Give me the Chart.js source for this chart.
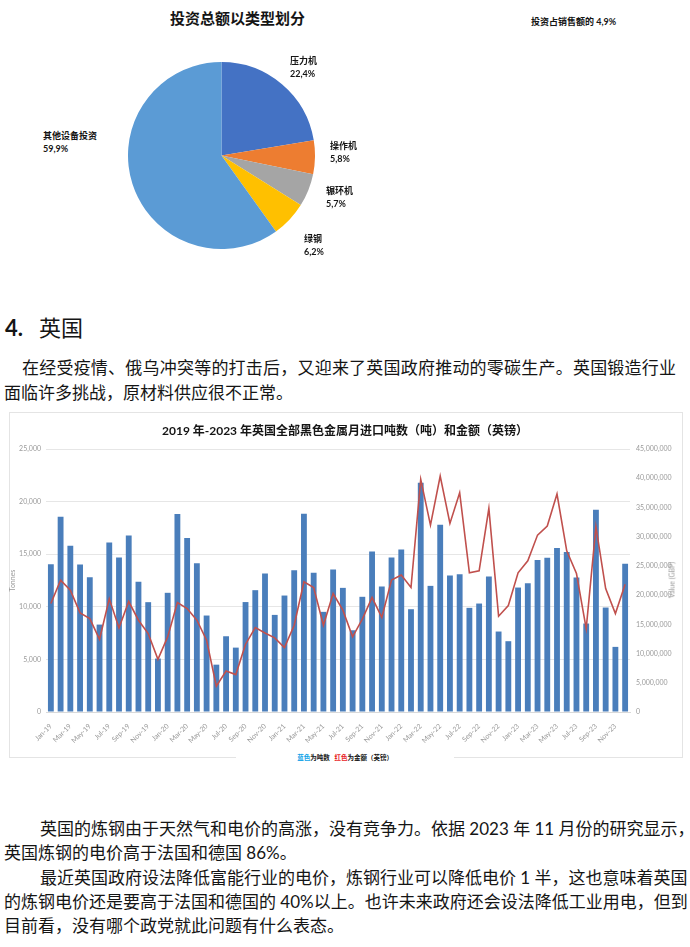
<!DOCTYPE html>
<html lang="zh">
<head>
<meta charset="UTF-8">
<title>英国黑色金属进口</title>
<script src="https://cdn.jsdelivr.net/npm/chart.js"></script>
<style>
    body { margin: 0; width: 690px; height: 947px; position: relative; overflow: hidden; background: #fff;
           font-family: "Lato", "Noto Sans CJK SC", sans-serif; color: #151515; }
    .abs { position: absolute; white-space: nowrap; }
    .pie-lbl { font-size: 9px; font-weight: 700; line-height: 13px; }
    .txt { position: absolute; white-space: nowrap; font-size: 17px; line-height: 20px; }
    .just { text-align: justify; text-align-last: justify; }
</style>
</head>
<body>
    <!-- pie block -->
    <div class="abs" style="left:170px; top:7px; font-size:15px; font-weight:700; line-height:22px;">投资总额以类型划分</div>
    <div class="abs pie-lbl" style="left:531px; top:15px;">投资占销售额的 4,9%</div>
    <canvas id="pieChart" class="abs" style="left:128px; top:62px;" width="187" height="187"></canvas>
    <div id="pieLabels"></div>

    <!-- heading + paragraph -->
    <div class="abs" style="left:5px; top:314px; font-size:22px; line-height:28px;"><b>4.</b></div>
    <div class="abs" style="left:39px; top:314px; font-size:22px; line-height:28px;">英国</div>
    <div class="txt just" style="left:22px; top:358px; width:654px;">在经受疫情、俄乌冲突等的打击后，又迎来了英国政府推动的零碳生产。英国锻造行业</div>
    <div class="txt" style="left:4px; top:383px;">面临许多挑战，原材料供应很不正常。</div>

    <!-- combo chart -->
    <div class="abs" style="left:9px; top:412px; width:672px; height:344px; border:1px solid #e4e4e4;"></div>
    <canvas id="importChart" class="abs" style="left:9px; top:412px;" width="674" height="345"></canvas>
    <div class="abs" style="left:0; width:690px; top:422px; text-align:center; font-size:12px; font-weight:700; line-height:18px;">2019 年-2023 年英国全部黑色金属月进口吨数（吨）和金额（英镑）</div>
    <div class="abs" style="left:672px; top:580px; font-size:7px; color:#9a9a9a; line-height:9px; transform:translate(-50%,-50%) rotate(-90deg);">Value (GBP)</div>
    <div class="abs" style="left:236px; width:218px; top:752px; height:12px; background:#fff; text-align:center; font-size:6.5px; font-weight:700; line-height:12px;">
        <span style="color:#12a3e8">蓝色</span>为吨数&nbsp;&nbsp; <span style="color:#e8231f">红色</span>为金额（英镑）
    </div>

    <!-- lower paragraphs -->
    <div class="txt just" style="left:40px; top:819px; width:645px;">英国的炼钢由于天然气和电价的高涨，没有竞争力。依据 2023 年 11 月份的研究显示，</div>
    <div class="txt" style="left:4px; top:843px;">英国炼钢的电价高于法国和德国 86%。</div>
    <div class="txt just" style="left:40px; top:868px; width:645px;">最近英国政府设法降低富能行业的电价，炼钢行业可以降低电价 1 半，这也意味着英国</div>
    <div class="txt just" style="left:4px; top:892px; width:681px;">的炼钢电价还是要高于法国和德国的 40%以上。也许未来政府还会设法降低工业用电，但到</div>
    <div class="txt" style="left:4px; top:916px;">目前看，没有哪个政党就此问题有什么表态。</div>

<script>
    // pie: investment split by type (%)
    const pieLabels = ['压力机', '操作机', '辗环机', '绿钢', '其他设备投资'];
    const pieShares = [22.4, 5.8, 5.7, 6.2, 59.9];
    const pieColors = ['#4472c4', '#ed7d31', '#a5a5a5', '#ffc000', '#5b9bd5'];
    const pieLabelPos = [[290, 54], [330, 139], [326, 184], [304, 232], [43, 129]];

    // monthly imports Jan-19 .. Dec-23
    const months = [
        'Jan-19','Feb-19','Mar-19','Apr-19','May-19','Jun-19','Jul-19','Aug-19','Sep-19','Oct-19','Nov-19','Dec-19',
        'Jan-20','Feb-20','Mar-20','Apr-20','May-20','Jun-20','Jul-20','Aug-20','Sep-20','Oct-20','Nov-20','Dec-20',
        'Jan-21','Feb-21','Mar-21','Apr-21','May-21','Jun-21','Jul-21','Aug-21','Sep-21','Oct-21','Nov-21','Dec-21',
        'Jan-22','Feb-22','Mar-22','Apr-22','May-22','Jun-22','Jul-22','Aug-22','Sep-22','Oct-22','Nov-22','Dec-22',
        'Jan-23','Feb-23','Mar-23','Apr-23','May-23','Jun-23','Jul-23','Aug-23','Sep-23','Oct-23','Nov-23','Dec-23'
    ];
    const tonnes = [
        14050, 18560, 15800, 14020, 12820, 8310, 16120, 14690, 16780, 12370, 10440, 5080,
        11330, 18810, 16530, 14150, 9170, 4500, 7200, 6120, 10450, 11580, 13170, 9230,
        11070, 13480, 18850, 13230, 9520, 13550, 11800, 7770, 10950, 15260, 11930, 14690,
        15450, 9770, 21800, 11990, 17800, 12980, 13100, 9900, 10310, 12880, 7650, 6730,
        11830, 12250, 14440, 14660, 15580, 15200, 12790, 8410, 19230, 9930, 6190, 14090
    ];
    const valueGBP = [
        18560000, 22560000, 20850000, 16960000, 15990000, 12450000, 19360000, 14390000, 18900000, 15700000, 13420000, 9020000,
        12850000, 18730000, 17700000, 15700000, 12280000, 4400000, 7020000, 6400000, 11600000, 14450000, 13530000, 12680000,
        11020000, 14850000, 22270000, 21300000, 14850000, 20270000, 17420000, 12850000, 15880000, 19590000, 16160000, 22560000,
        23420000, 21300000, 39800000, 31980000, 40380000, 32270000, 37520000, 23810000, 24160000, 34840000, 16390000, 18220000,
        23810000, 25870000, 30270000, 31810000, 37290000, 27580000, 23700000, 14280000, 31700000, 21130000, 16850000, 21870000
    ];

    Chart.defaults.font.family = '"Lato", "Noto Sans CJK SC", sans-serif';
    Chart.defaults.animation = false;

    new Chart(document.getElementById('pieChart'), {
        type: 'pie',
        data: {
            labels: pieLabels,
            datasets: [{ data: pieShares, backgroundColor: pieColors, borderWidth: 0 }]
        },
        options: {
            responsive: false,
            plugins: { legend: { display: false }, tooltip: { enabled: false } }
        }
    });

    // slice labels as real text, e.g. "22,4%"
    const holder = document.getElementById('pieLabels');
    pieLabels.forEach((name, i) => {
        const d = document.createElement('div');
        d.className = 'abs pie-lbl';
        d.style.left = pieLabelPos[i][0] + 'px';
        d.style.top = pieLabelPos[i][1] + 'px';
        d.innerHTML = name + '<br>' + pieShares[i].toFixed(1).replace('.', ',') + '%';
        holder.appendChild(d);
    });

    const tickGrey = '#9a9a9a';
    new Chart(document.getElementById('importChart'), {
        data: {
            labels: months,
            datasets: [
                {
                    type: 'line', label: '金额', data: valueGBP, yAxisID: 'y1', order: 0,
                    borderColor: '#c0504d', borderWidth: 1.6, pointRadius: 0, tension: 0
                },
                {
                    type: 'bar', label: '吨数', data: tonnes, yAxisID: 'y', order: 1,
                    backgroundColor: '#4a7ebb', barPercentage: 0.6, categoryPercentage: 1.0
                }
            ]
        },
        options: {
            responsive: false,
            locale: 'en-US',
            layout: { padding: { top: 37, bottom: 5, left: 0, right: 0 } },
            plugins: { legend: { display: false }, tooltip: { enabled: false } },
            scales: {
                x: {
                    offset: true,
                    grid: { display: false },
                    border: { color: '#d9d9d9' },
                    ticks: {
                        autoSkip: false, minRotation: 45, maxRotation: 45, padding: 2,
                        color: tickGrey, font: { size: 7 },
                        callback: (v, i) => (i % 2 === 0 ? months[i] : '')
                    },
                    afterFit: s => { s.height = 40; }
                },
                y: {
                    position: 'left', min: 0, max: 25000,
                    ticks: { stepSize: 5000, color: tickGrey, font: { size: 7 }, padding: 5 },
                    grid: { color: '#e6e6e6', drawTicks: false },
                    border: { display: false },
                    title: { display: true, text: 'Tonnes', color: tickGrey, font: { size: 7 }, padding: 0 },
                    afterFit: s => { s.width = 37; }
                },
                y1: {
                    position: 'right', min: 0, max: 45000000,
                    ticks: { stepSize: 5000000, color: tickGrey, font: { size: 7 }, padding: 6 },
                    grid: { display: false, drawTicks: false },
                    border: { display: false },
                    afterFit: s => { s.width = 53; }
                }
            }
        }
    });
</script>
</body>
</html>
